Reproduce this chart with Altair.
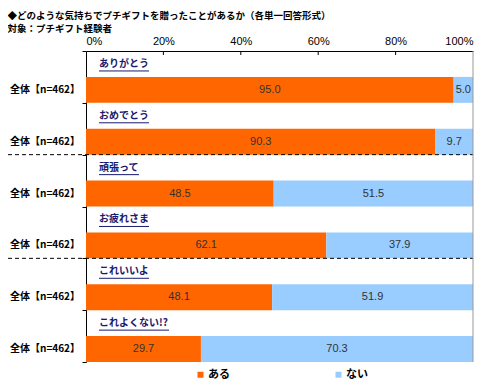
import altair as alt
import pandas as pd

# ---- data ----
categories = ["ありがとう", "おめでとう", "頑張って", "お疲れさま", "これいいよ", "これよくない!?"]
aru = [95.0, 90.3, 48.5, 62.1, 48.1, 29.7]
nai = [5.0, 9.7, 51.5, 37.9, 51.9, 70.3]
row_label = "全体【n=462】"
series = ["ある", "ない"]
colors = ["#FF6600", "#99CCFF"]
x_ticks = [0, 20, 40, 60, 80, 100]
inner_ticks = [20, 40, 60, 80]
group_bounds = [4, 8]          # slot boundaries where dashed separators sit
title_lines = ["◆どのような気持ちでプチギフトを贈ったことがあるか（各単一回答形式）",
               "対象：プチギフト経験者"]

W, H = 387, 311
JP = "Noto Sans CJK JP"
LAT = "Liberation Sans"

# ---- tables ----
rows = []
for i, (c, a, n) in enumerate(zip(categories, aru, nai)):
    slot = 2 * i + 1
    rows.append(dict(cat=c, series=series[0], x0=0.0, x1=a, val=a, s0=slot, s1=slot + 1))
    rows.append(dict(cat=c, series=series[1], x0=a, x1=a + n, val=n, s0=slot, s1=slot + 1))
bars = pd.DataFrame(rows)
bars["mid"] = (bars["x0"] + bars["x1"]) / 2
bars["ymid"] = bars["s0"] + 0.5
bars["label"] = bars["val"].map(lambda v: f"{v:.1f}")

def text_px(s, size=10):
    return sum(size if ord(ch) > 255 else size * 0.5 for ch in s)

cats = pd.DataFrame({"cat": categories})
cats["ymid"] = [2 * i + 0.5 for i in range(len(categories))]
cats["u0"] = 0.0
cats["uend"] = [text_px(c) / W * 100 for c in categories]

rowlab = pd.DataFrame({"ymid": [2 * i + 1.5 for i in range(len(categories))],
                       "lab": [row_label] * len(categories)})
rowlab["x0"] = 0.0
seps = pd.DataFrame({"y": group_bounds})
ticks = pd.DataFrame({"t": inner_ticks})
edge = pd.DataFrame({"t": [100]})

xs = alt.Scale(domain=[0, 100], nice=False, zero=False)
ys = alt.Scale(domain=[0, 12], nice=False, zero=False, reverse=True)
x_axis = alt.Axis(orient="top", values=x_ticks, labelExpr="datum.value + '%'", ticks=False,
                  domainColor="#000", domainWidth=1, grid=False, title=None,
                  labelFont=LAT, labelFontSize=11, labelColor="#000", labelPadding=5)
y_axis = alt.Axis(values=[0, 2, 4, 6, 8, 10, 12], labels=False, ticks=True, tickSize=4,
                  tickColor="#000", domainColor="#000", grid=False, title=None)

bar = alt.Chart(bars).mark_bar(stroke=None).encode(
    x=alt.X("x0:Q", scale=xs, axis=x_axis),
    x2="x1:Q",
    y=alt.Y("s0:Q", scale=ys, axis=y_axis),
    y2="s1:Q",
    color=alt.Color("series:N", scale=alt.Scale(domain=series, range=colors),
                    legend=alt.Legend(orient="none", legendX=109, legendY=318,
                                      direction="horizontal", title=None,
                                      symbolType="square", symbolSize=36,
                                      symbolStrokeWidth=0, labelFont=JP,
                                      labelFontSize=11, labelFontWeight="bold",
                                      labelColor="#000", columnPadding=103,
                                      labelOffset=2)),
)

vals = alt.Chart(bars).mark_text(font=LAT, fontSize=11, color="#333").encode(
    x=alt.X("mid:Q", scale=xs, axis=x_axis),
    y=alt.Y("ymid:Q", scale=ys, axis=y_axis),
    text="label:N",
)

catlab = alt.Chart(cats).mark_text(font=JP, fontSize=10, fontWeight="bold", color="#1a1a6e",
                                   align="left", dx=13).encode(
    x=alt.X("u0:Q", scale=xs, axis=x_axis),
    y=alt.Y("ymid:Q", scale=ys, axis=y_axis),
    text="cat:N",
)

underline = alt.Chart(cats).mark_rule(color="#1a1a6e", strokeWidth=1, xOffset=13, x2Offset=13,
                                      yOffset=7).encode(
    x=alt.X("u0:Q", scale=xs, axis=x_axis),
    x2="uend:Q",
    y=alt.Y("ymid:Q", scale=ys, axis=y_axis),
)

rlab = alt.Chart(rowlab).mark_text(font=JP, fontSize=10, fontWeight="bold", color="#000",
                                   align="right", dx=-6).encode(
    x=alt.X("x0:Q", scale=xs, axis=x_axis),
    y=alt.Y("ymid:Q", scale=ys, axis=y_axis),
    text="lab:N",
)

sep = alt.Chart(seps).mark_rule(color="#000", strokeWidth=1, strokeDash=[4, 3]).encode(
    x=alt.value(-78), x2=alt.value(W),
    y=alt.Y("y:Q", scale=ys, axis=y_axis),
)

tk = alt.Chart(ticks).mark_rule(color="#000").encode(
    x=alt.X("t:Q", scale=xs, axis=x_axis),
    y=alt.value(0), y2=alt.value(4),
)

right = alt.Chart(edge).mark_rule(color="#999").encode(
    x=alt.X("t:Q", scale=xs, axis=x_axis),
    y=alt.value(0), y2=alt.value(H),
)

chart = alt.layer(bar, vals, catlab, underline, rlab, sep, tk, right).properties(
    width=W, height=H,
    autosize=alt.AutoSizeParams(type="none"),
    padding={"left": 78, "top": 43, "right": 16, "bottom": 24},
    title=alt.TitleParams(text=title_lines, anchor="start", font=JP, fontSize=9.5,
                          fontWeight="bold", color="#000", lineHeight=13, offset=2),
).configure_view(stroke=None)

chart.save("out.html", embed_options={"renderer": "svg", "actions": False})
